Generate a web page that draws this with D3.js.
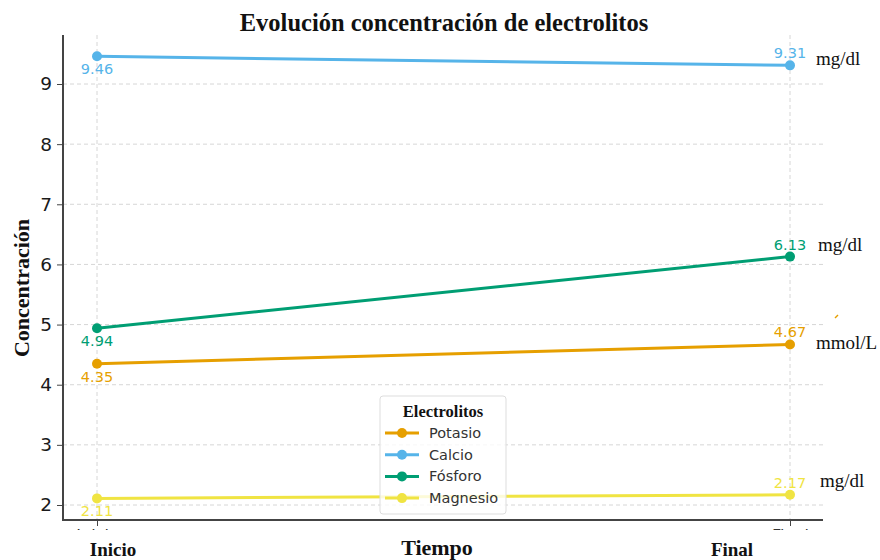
<!DOCTYPE html>
<html><head><meta charset="utf-8">
<script src="https://cdn.jsdelivr.net/npm/d3@7"></script>
<style>body{margin:0;background:#fff}</style>
</head><body><div id="c"></div>
<script>
const times = ["Inicio", "Final"];
const seriesNames = ["Potasio", "Calcio", "Fósforo", "Magnesio"];
const potasio = [4.35, 4.67];
const calcio = [9.46, 9.31];
const fosforo = [4.94, 6.13];
const magnesio = [2.11, 2.17];
const units = ["mmol/L", "mg/dl", "mg/dl", "mg/dl"];
const colors = ["#E69F00", "#56B4E9", "#009E73", "#F0E442"];
const yTicks = [2, 3, 4, 5, 6, 7, 8, 9];
const series = [potasio, calcio, fosforo, magnesio];

const W = 880, H = 560;
const svg = d3.select("#c").append("svg").attr("width", W).attr("height", H);
const pLeft = 63, pRight = 823, pTop = 35, pBottom = 520;
const x = d3.scalePoint().domain(times).range([97, 790]);
const y = d3.scaleLinear().domain([2, 9]).range([505, 84]);

svg.append("defs").append("clipPath").attr("id", "tickclip")
  .append("rect").attr("x", 0).attr("y", -10).attr("width", W).attr("height", 20);

// grid
svg.append("g").selectAll("line").data(yTicks).join("line")
  .attr("x1", pLeft).attr("x2", pRight).attr("y1", d => y(d)).attr("y2", d => y(d))
  .attr("stroke", "#ccc").attr("stroke-dasharray", "4,3").attr("stroke-width", 0.8);
svg.append("g").selectAll("line").data(times).join("line")
  .attr("x1", d => x(d)).attr("x2", d => x(d)).attr("y1", pTop).attr("y2", pBottom)
  .attr("stroke", "#ccc").attr("stroke-dasharray", "4,3").attr("stroke-width", 0.8);

// y axis
const yAxis = svg.append("g").attr("transform", `translate(${pLeft},0)`)
  .call(d3.axisLeft(y).tickValues(yTicks).tickSize(6).tickPadding(5).tickFormat(d3.format("d")));
yAxis.select(".domain").remove();
yAxis.selectAll(".tick line").attr("stroke", "#444").attr("stroke-width", 1);
yAxis.selectAll(".tick text").attr("font-family", "DejaVu Sans").attr("font-size", 18.5).attr("fill", "#1a1a1a");
svg.append("line").attr("x1", pLeft).attr("x2", pLeft).attr("y1", pTop).attr("y2", pBottom + 1)
  .attr("stroke", "#444").attr("stroke-width", 2);

// x axis (original tick labels, clipped as in the reference)
const xAxis = svg.append("g").attr("transform", `translate(0,${pBottom})`)
  .attr("clip-path", "url(#tickclip)")
  .call(d3.axisBottom(x).tickSize(6).tickPadding(4));
xAxis.select(".domain").remove();
xAxis.selectAll(".tick line").attr("stroke", "#444");
xAxis.selectAll(".tick text").attr("font-family", "DejaVu Sans").attr("font-size", 16).attr("fill", "#333");
svg.append("line").attr("x1", pLeft).attr("x2", pRight).attr("y1", pBottom).attr("y2", pBottom)
  .attr("stroke", "#444").attr("stroke-width", 2);

// lines
const line = d3.line().x((d, i) => x(times[i])).y(d => y(d));
series.forEach((s, k) => {
  svg.append("path").attr("d", line(s)).attr("fill", "none")
    .attr("stroke", colors[k]).attr("stroke-width", 3);
  svg.append("g").selectAll("circle").data(s).join("circle")
    .attr("cx", (d, i) => x(times[i])).attr("cy", d => y(d)).attr("r", 5).attr("fill", colors[k]);
  svg.append("g").selectAll("text").data(s).join("text")
    .attr("x", (d, i) => x(times[i])).attr("y", (d, i) => i === 0 ? y(d) + 18 : y(d) - 7)
    .attr("text-anchor", "middle").attr("font-family", "DejaVu Sans").attr("font-size", 14.5)
    .attr("fill", colors[k]).text(d => d.toFixed(2));
  const yy = series[k][1];
  const off = {0: [26, 5], 1: [26, 0], 2: [28, -6], 3: [30, -8]}[k];
  svg.append("text").attr("x", x(times[1]) + off[0]).attr("y", y(yy) + off[1])
    .attr("font-family", "Liberation Serif").attr("font-size", 19).attr("fill", "#111").text(units[k]);
});
// stray mark
svg.append("line").attr("x1", 835).attr("x2", 838).attr("y1", 318).attr("y2", 315)
  .attr("stroke", "#E69F00").attr("stroke-width", 1.5);

// legend
const lg = svg.append("g").attr("transform", "translate(380,396)");
lg.append("rect").attr("width", 126).attr("height", 118).attr("rx", 3)
  .attr("fill", "#fff").attr("fill-opacity", 0.8).attr("stroke", "#ddd");
lg.append("text").attr("x", 63).attr("y", 21).attr("text-anchor", "middle")
  .attr("font-family", "Liberation Serif").attr("font-weight", "bold").attr("font-size", 16.5)
  .attr("fill", "#111").text("Electrolitos");
seriesNames.forEach((n, k) => {
  const yy = 37 + k * 21.7;
  lg.append("line").attr("x1", 5).attr("x2", 39).attr("y1", yy).attr("y2", yy)
    .attr("stroke", colors[k]).attr("stroke-width", 3);
  lg.append("circle").attr("cx", 22).attr("cy", yy).attr("r", 5).attr("fill", colors[k]);
  lg.append("text").attr("x", 49).attr("y", yy + 5).attr("font-family", "DejaVu Sans")
    .attr("font-size", 14.5).attr("fill", "#333").text(n);
});

// titles
svg.append("text").attr("x", 444).attr("y", 31).attr("text-anchor", "middle")
  .attr("font-family", "Liberation Serif").attr("font-weight", "bold").attr("font-size", 24.5)
  .attr("fill", "#111").text("Evolución concentración de electrolitos");
svg.append("text").attr("transform", "translate(29,288) rotate(-90)").attr("text-anchor", "middle")
  .attr("font-family", "Liberation Serif").attr("font-weight", "bold").attr("font-size", 22)
  .attr("fill", "#111").text("Concentración");
svg.append("text").attr("x", 437).attr("y", 555).attr("text-anchor", "middle")
  .attr("font-family", "Liberation Serif").attr("font-weight", "bold").attr("font-size", 22)
  .attr("fill", "#111").text("Tiempo");
svg.append("text").attr("x", 113).attr("y", 556).attr("text-anchor", "middle")
  .attr("font-family", "Liberation Serif").attr("font-weight", "bold").attr("font-size", 19)
  .attr("fill", "#111").text("Inicio");
svg.append("text").attr("x", 732).attr("y", 556).attr("text-anchor", "middle")
  .attr("font-family", "Liberation Serif").attr("font-weight", "bold").attr("font-size", 19)
  .attr("fill", "#111").text("Final");
</script></body></html>
